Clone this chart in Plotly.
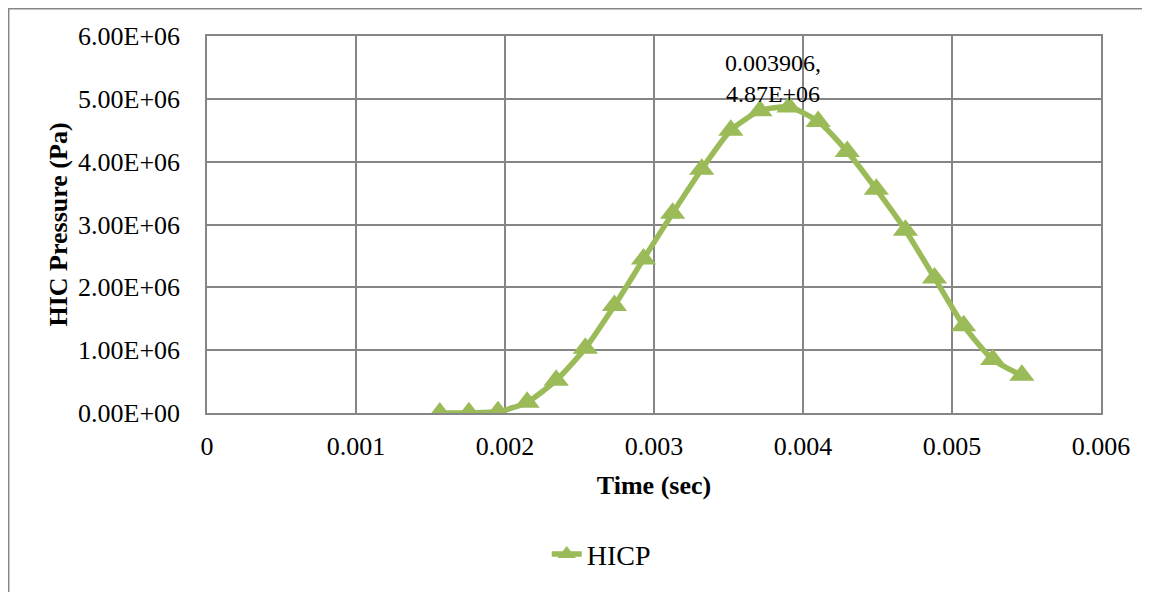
import plotly.graph_objects as go

# Time (sec) and HIC pressure (Pa)
time_s = [0.0015625, 0.0017578, 0.0019531, 0.0021484, 0.0023438, 0.0025391,
          0.0027344, 0.0029297, 0.0031250, 0.0033203, 0.0035156, 0.0037109,
          0.0039063, 0.0041016, 0.0042969, 0.0044922, 0.0046875, 0.0048828,
          0.0050781, 0.0052734, 0.0054688]
pressure_pa = [0.0, 5.0e3, 2.0e4, 1.7e5, 5.2e5, 1.03e6,
               1.71e6, 2.45e6, 3.18e6, 3.88e6, 4.50e6, 4.81e6,
               4.87e6, 4.64e6, 4.16e6, 3.56e6, 2.91e6, 2.15e6,
               1.39e6, 0.85e6, 0.60e6]

x_ticks = [0, 0.001, 0.002, 0.003, 0.004, 0.005, 0.006]
x_tick_text = ["0", "0.001", "0.002", "0.003", "0.004", "0.005", "0.006"]
y_ticks = [0, 1e6, 2e6, 3e6, 4e6, 5e6, 6e6]
y_tick_text = ["0.00E+00", "1.00E+06", "2.00E+06", "3.00E+06",
               "4.00E+06", "5.00E+06", "6.00E+06"]

peak_label = "0.003906,<br>4.87E+06"

LINE_GREEN = "#9bbb59"
GRID = "#868686"
FONT = "Liberation Serif, Times New Roman, serif"

fig = go.Figure()
fig.add_trace(go.Scatter(
    x=time_s, y=pressure_pa,
    mode="lines+markers",
    name="HICP",
    line={"color": LINE_GREEN, "width": 5.5, "shape": "spline", "smoothing": 0.6},
    marker={"symbol": "triangle-up", "size": 22, "color": LINE_GREEN},
))

peak_i = pressure_pa.index(max(pressure_pa))
fig.add_annotation(
    x=time_s[peak_i], y=pressure_pa[peak_i],
    text=peak_label, showarrow=False,
    xanchor="center", yanchor="bottom", xshift=-16, yshift=-2,
    font={"family": FONT, "size": 24, "color": "#000000"},
)

# outer chart-area border (runs off the right and bottom of the image)
fig.add_shape(
    type="rect", xref="paper", yref="paper",
    x0=-0.2218, x1=1.08, y0=-0.5, y1=1.072,
    line={"color": "#868686", "width": 1.5}, fillcolor="rgba(0,0,0,0)",
    layer="below",
)

fig.update_layout(
    width=1142, height=584,
    margin={"l": 199, "r": 49, "t": 28, "b": 177},
    paper_bgcolor="white", plot_bgcolor="white",
    font={"family": FONT, "size": 26, "color": "#000000"},
    showlegend=True,
    legend={
        "orientation": "h", "xanchor": "center", "x": 0.441,
        "yanchor": "middle", "y": -0.375,
        "font": {"family": FONT, "size": 28},
    },
    xaxis={
        "range": [0, 0.006],
        "tickvals": x_ticks, "ticktext": x_tick_text,
        "showgrid": True, "gridcolor": GRID, "gridwidth": 1.5,
        "showline": True, "linecolor": GRID, "linewidth": 1.5, "mirror": True,
        "zeroline": False, "ticks": "outside", "ticklen": 9,
        "tickcolor": "rgba(0,0,0,0)",
        "tickfont": {"family": FONT, "size": 26},
        "title": {"text": "<b>Time (sec)</b>", "standoff": 16,
                  "font": {"family": FONT, "size": 26}},
    },
    yaxis={
        "range": [0, 6e6],
        "tickvals": y_ticks, "ticktext": y_tick_text,
        "showgrid": True, "gridcolor": GRID, "gridwidth": 1.5,
        "showline": True, "linecolor": GRID, "linewidth": 1.5, "mirror": True,
        "zeroline": False, "ticks": "outside", "ticklen": 20,
        "tickcolor": "rgba(0,0,0,0)",
        "tickfont": {"family": FONT, "size": 26},
        "title": {"text": "<b>HIC Pressure (Pa)</b>", "standoff": 3,
                  "font": {"family": FONT, "size": 26}},
    },
)

fig.write_html("out.html")
